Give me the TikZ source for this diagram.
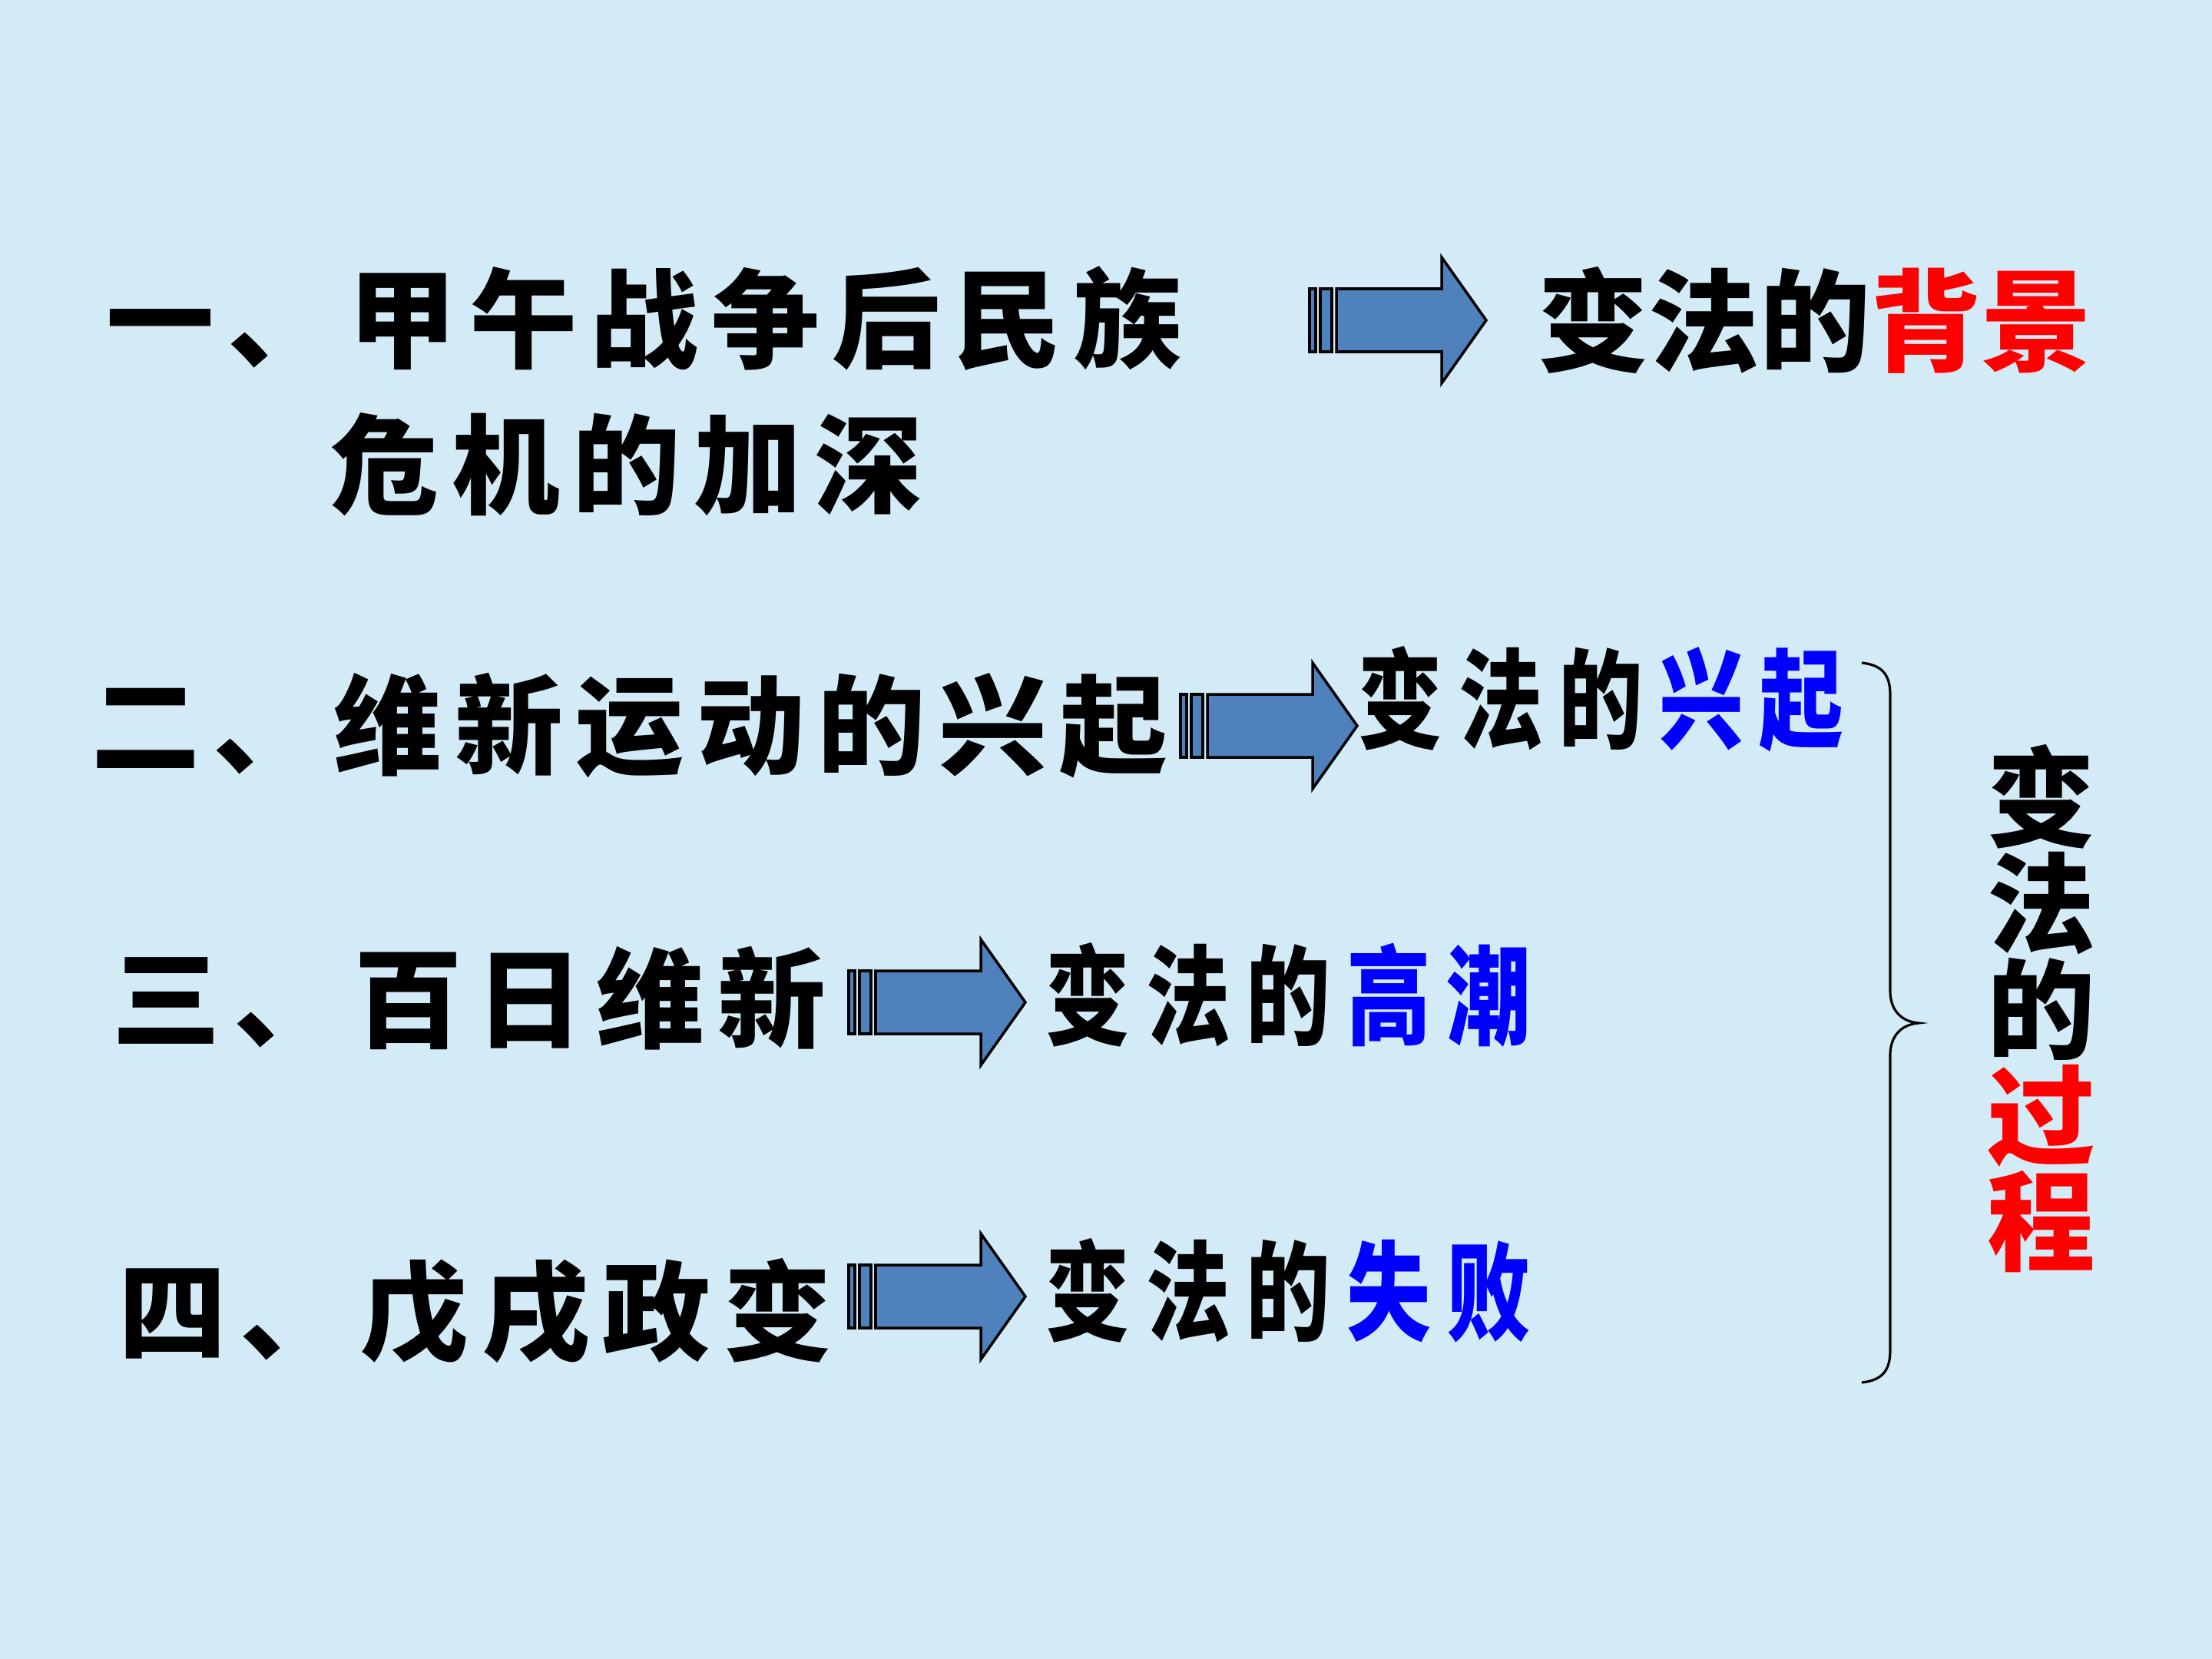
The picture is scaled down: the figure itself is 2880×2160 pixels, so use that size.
\documentclass[tikz,border=0pt]{standalone}
\usepackage{fontspec}
\usepackage{graphicx}
\usepackage{tikz}
\usetikzlibrary{positioning}
\newfontfamily\brush[LetterSpace=12]{Noto Sans CJK SC}
\newfontfamily\hei{Noto Sans CJK SC}
\newfontfamily\heispaced[LetterSpace=19]{Noto Sans CJK SC}
\definecolor{bgblue}{RGB}{211,235,246}
\definecolor{arrowblue}{RGB}{79,129,189}
\definecolor{hiblue}{RGB}{0,0,255}
\newcommand{\narrow}[1]{\scalebox{0.78}[1]{#1}}
\newcommand{\gap}{\hspace{7.6pt}}
\newcommand{\blockarrow}[1]{%
  \begin{scope}[shift={(#1)}]
    \filldraw[arrow box] (0,-41) rectangle (8,41);
    \filldraw[arrow box] (14,-41) rectangle (29,41);
    \filldraw[arrow box] (35,-41) -- (172,-41) -- (172,-82) -- (230,0) -- (172,82) -- (172,41) -- (35,41) -- cycle;
  \end{scope}}

\begin{document}
\begin{tikzpicture}[x=0.01cm, y=-0.01cm,
  main node/.style={inner sep=0pt, anchor=west, font=\brush\bfseries\fontsize{40}{48}\selectfont},
  goal node/.style={inner sep=0pt, anchor=west, font=\hei\bfseries\fontsize{41}{48}\selectfont},
  stage node/.style={inner sep=0pt, anchor=west, font=\heispaced\bfseries\fontsize{40}{48}\selectfont},
  arrow box/.style={fill=arrowblue, draw=black, line width=1pt, line join=miter},
  brace line/.style={draw=black, line width=0.9pt}]
  \fill[bgblue] (0,0) rectangle (2880,2160);
  \useasboundingbox (0,0) rectangle (2880,2160);

  \node[main node] (1) at (138,415) {一、甲午战争后民族};
  \node[main node] (1b) at (430,605) {危机的加深};
  \node[goal node] (goal1) at (2002,417) {变法的\textcolor{red}{背景}};

  \node[main node] (2) at (119,945) {二、维新运动的兴起};
  \node[stage node] (goal2) at (1768,910) {\narrow{变法的\gap\textcolor{hiblue}{兴起}}};

  \node[main node] (3) at (146,1300) {三、百日维新};
  \node[stage node] (goal3) at (1361,1295) {\narrow{变法的\gap\textcolor{hiblue}{高潮}}};

  \node[main node] (4) at (154,1708) {四、戊戌政变};
  \node[stage node] (goal4) at (1361,1680) {\narrow{变法的\gap\textcolor{hiblue}{失败}}};

  \coordinate (a1) at (1705,417);
  \coordinate (a2) at (1537,945);
  \coordinate (a3) at (1105,1305);
  \coordinate (a4) at (1105,1688);
  \blockarrow{a1}
  \blockarrow{a2}
  \blockarrow{a3}
  \blockarrow{a4}

  \draw[brace line] (2424,863) .. controls (2452,866) and (2461,880) .. (2461,905) -- (2461,1290)
    .. controls (2461,1315) and (2475,1330) .. (2498,1332)
    .. controls (2475,1334) and (2461,1349) .. (2461,1374) -- (2461,1758)
    .. controls (2461,1783) and (2452,1797) .. (2424,1800);

  \node[goal node, anchor=center, align=center, font=\hei\bfseries\fontsize{40}{39.2}\selectfont] (sum) at (2658,1313)
    {变\\法\\的\\\textcolor{red}{过}\\\textcolor{red}{程}};
\end{tikzpicture}
\end{document}
